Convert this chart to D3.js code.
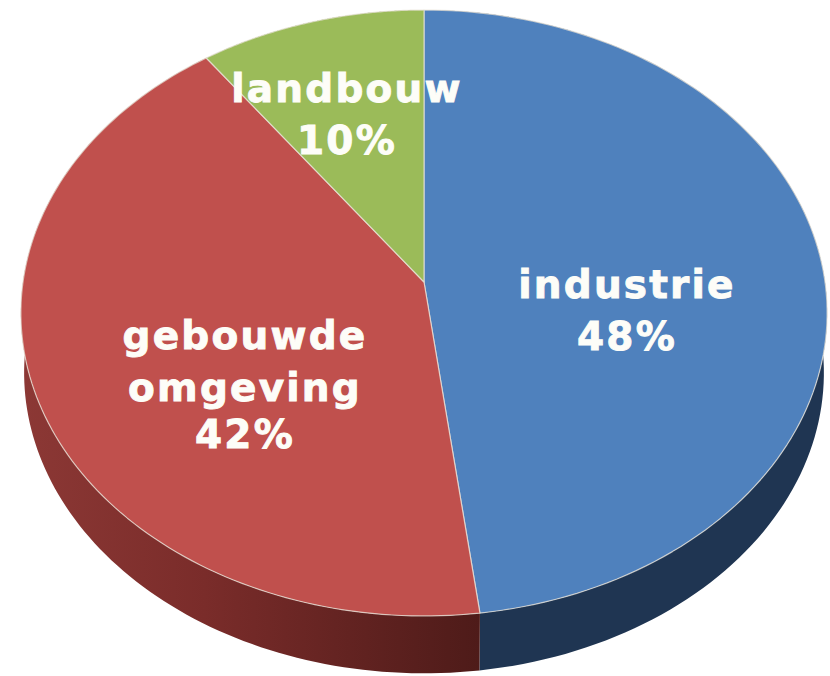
<!DOCTYPE html>
<html>
<head>
<meta charset="utf-8">
<script src="https://cdn.jsdelivr.net/npm/d3@7/dist/d3.min.js"></script>
<style>
  html, body { margin: 0; padding: 0; background: #fff; }
  svg { display: block; }
  text { font-family: "DejaVu Sans", sans-serif; font-weight: bold; fill: #fdfdf8; stroke: #fdfdf8; stroke-width: 0.9; text-anchor: middle; }
</style>
</head>
<body>
<svg id="chart" width="830" height="676"></svg>
<script>
// Energy use by sector, clockwise from twelve o'clock
const sectors = ["industrie", "gebouwde omgeving", "landbouw"];
const shares = [48, 42, 10];
const labelLines = [["industrie", "48%"], ["gebouwde", "omgeving", "42%"], ["landbouw", "10%"]];
const topColors = ["#4f81bd", "#c0504d", "#9bbb59"];
const sideStops = [
  [["#1f3552", 0], ["#1f3552", 1]],
  [["#8c3835", 0], ["#7a2c2a", 0.4], ["#4e1b19", 1]],
  [["#6f8a3c", 0], ["#6f8a3c", 1]]
];

const svg = d3.select("#chart");

// Tilted disc: perspective projection of the unit circle
const apex = { x: 424, y: 282 };
const lens = 0.1023, spanX = 401, spanY = 299.8, depth = 60, shrink = 0.992;

function project(angle, level) {
  const u = Math.sin(angle), v = -Math.cos(angle);
  const w = 1 - lens * v;
  const s = level ? shrink : 1;
  return [
    apex.x + s * spanX * u / w,
    apex.y + s * spanY * v / w + (level ? depth : 0)
  ];
}

const pie = d3.pie().sort(null).value(d => d);
const arcs = pie(shares);
const line = d3.line();
const angleSamples = a => d3.range(0, 121).map(i => a.startAngle + (a.endAngle - a.startAngle) * i / 120);

const defs = svg.append("defs");
sideStops.forEach((stops, i) => {
  const xs = angleSamples(arcs[i]).map(t => project(t, 0)[0]);
  const g = defs.append("linearGradient")
    .attr("id", "side" + i)
    .attr("gradientUnits", "userSpaceOnUse")
    .attr("x1", d3.min(xs)).attr("x2", d3.max(xs))
    .attr("y1", 0).attr("y2", 0);
  stops.forEach(s => g.append("stop").attr("offset", s[1]).attr("stop-color", s[0]));
});

// Wall of the disc
svg.append("g").selectAll("path").data(arcs).join("path")
  .attr("d", a => {
    const ts = angleSamples(a);
    const upper = ts.map(t => project(t, 0));
    const lower = ts.map(t => project(t, 1)).reverse();
    return line(upper.concat(lower)) + "Z";
  })
  .attr("fill", (a, i) => `url(#side${i})`);

// Upper face
svg.append("g").selectAll("path").data(arcs).join("path")
  .attr("d", a => line([[apex.x, apex.y]].concat(angleSamples(a).map(t => project(t, 0)))) + "Z")
  .attr("fill", (a, i) => topColors[i])
  .attr("stroke", "#e9e4da")
  .attr("stroke-opacity", 0.75)
  .attr("stroke-width", 1.2)
  .attr("stroke-linejoin", "round");

// Sector captions
const captionAnchors = [
  { x: 627, y: [298, 350] },
  { x: 245, y: [349, 401, 448] },
  { x: 347, y: [102, 154] }
];
svg.append("g").selectAll("g").data(labelLines).join("g")
  .each(function (lines, i) {
    d3.select(this).selectAll("text").data(lines).join("text")
      .attr("x", captionAnchors[i].x)
      .attr("y", (d, j) => captionAnchors[i].y[j])
      .attr("font-size", 39)
      .attr("letter-spacing", 2.2)
      .text(d => d);
  });
</script>
</body>
</html>
